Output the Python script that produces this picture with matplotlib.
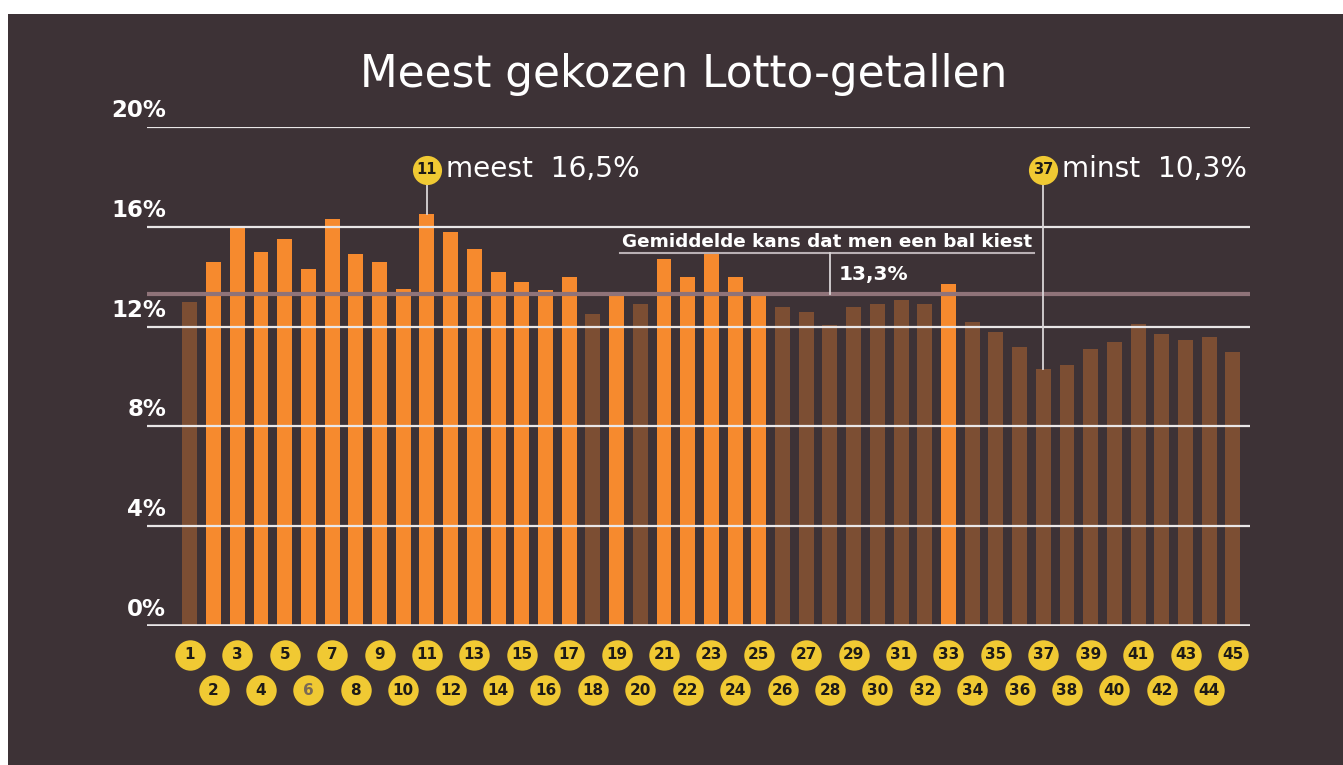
import matplotlib
matplotlib.use("Agg")
import matplotlib.pyplot as plt
from matplotlib.patches import Rectangle
import numpy as np

# ---- data ----
numbers = list(range(1, 46))
percent = [13.0, 14.6, 16.0, 15.0, 15.5, 14.3, 16.3, 14.9, 14.6, 13.5,
           16.5, 15.8, 15.1, 14.2, 13.8, 13.45, 14.0, 12.5, 13.4, 12.9,
           14.7, 14.0, 15.0, 14.0, 13.4, 12.8, 12.6, 12.05, 12.8, 12.9,
           13.05, 12.9, 13.7, 12.2, 11.8, 11.2, 10.3, 10.45, 11.1, 11.4,
           12.1, 11.7, 11.45, 11.6, 11.0]
mean_value = 13.3
yticks = [0, 4, 8, 12, 16, 20]
ytick_labels = ["0%", "4%", "8%", "12%", "16%", "20%"]
title = "Meest gekozen Lotto-getallen"

BG = "#3d3236"
ORANGE = "#f68a2e"
BROWN = "#7c4e33"
YELLOW = "#f0c933"
MEAN_C = "#8f7379"
FONT = "DejaVu Sans"

W, H = 1343, 765
fig = plt.figure(figsize=(W / 100, H / 100), dpi=100, facecolor="white")
fig.patches.append(Rectangle((8 / W, 0), 1 - 8 / W, 1 - 14 / H, transform=fig.transFigure,
                             facecolor=BG, edgecolor="none", zorder=-10))

ax = fig.add_axes([147 / W, (H - 626) / H, (1250 - 147) / W, (626 - 127) / H])
ax.set_facecolor("none")
ax.set_xlim(-0.81, 45.72)
ax.set_ylim(0, 20)
for s in ax.spines.values():
    s.set_visible(False)
ax.set_xticks([])
ax.set_yticks([])

colors = [ORANGE if v > mean_value else BROWN for v in percent]
ax.bar(numbers, percent, width=0.63, color=colors, zorder=2)

# gridlines over bars
for t, lab in zip(yticks, ytick_labels):
    ax.axhline(t, color="#e9e6e7", lw=2.6 if t == 0 else 1.6, zorder=3)
    ax.text(0.0, t + 0.2, lab, ha="right", va="bottom", color="white",
            fontsize=16.5, fontweight="bold", family=FONT)

ax.axhline(mean_value, color=MEAN_C, lw=3.0, zorder=3.5)

# bottom number balls
odd = [n for n in numbers if n % 2 == 1]
even = [n for n in numbers if n % 2 == 0]
y_odd, y_even = -1.16, -2.57
ax.scatter(odd, [y_odd] * len(odd), s=480, color=YELLOW, clip_on=False, zorder=4, linewidths=0)
ax.scatter(even, [y_even] * len(even), s=480, color=YELLOW, clip_on=False, zorder=4, linewidths=0)
for n in numbers:
    yy = y_odd if n % 2 == 1 else y_even
    ax.text(n, yy, str(n), ha="center", va="center", fontsize=11, fontweight="bold",
            color="#7a6a55" if n == 6 else "#1d1a17", family=FONT, zorder=5, clip_on=False)

# max / min annotations
imax = int(np.argmax(percent))
imin = int(np.argmin(percent))
ball_y = 18.28
for idx, word in [(imax, "meest"), (imin, "minst")]:
    n = numbers[idx]
    v = percent[idx]
    ax.plot([n, n], [v, ball_y], color="#d9d4d6", lw=1.3, zorder=3.6)
    ax.scatter([n], [ball_y], s=440, color=YELLOW, zorder=5, linewidths=0)
    ax.text(n, ball_y, str(n), ha="center", va="center", fontsize=10.5, fontweight="bold",
            color="#1d1a17", family=FONT, zorder=6)
    ax.text(n + 0.8, ball_y + 0.05, f"{word}  {v:.1f}%".replace(".", ","), ha="left", va="center",
            color="white", fontsize=20.2, family=FONT, zorder=6)

# mean annotation
ax.text(27.87, 15.05, "Gemiddelde kans dat men een bal kiest", ha="center", va="bottom",
        color="white", fontsize=13.2, fontweight="bold", family=FONT, zorder=6)
ax.plot([19.14, 36.6], [14.95, 14.95], color="#b9b0b4", lw=1.5, zorder=6)
ax.plot([28.0, 28.0], [14.95, mean_value], color="#d9d4d6", lw=1.3, zorder=6)
ax.text(28.35, 14.1, f"{mean_value:.1f}%".replace(".", ","), ha="left", va="center",
        color="white", fontsize=14.5, fontweight="bold", family=FONT, zorder=6)

fig.text(684 / W, 1 - 87 / H, title, ha="center", va="baseline", color="white",
         fontsize=31.5, fontweight="normal", family=FONT)

fig.savefig("out.png", dpi=100, facecolor="white")
